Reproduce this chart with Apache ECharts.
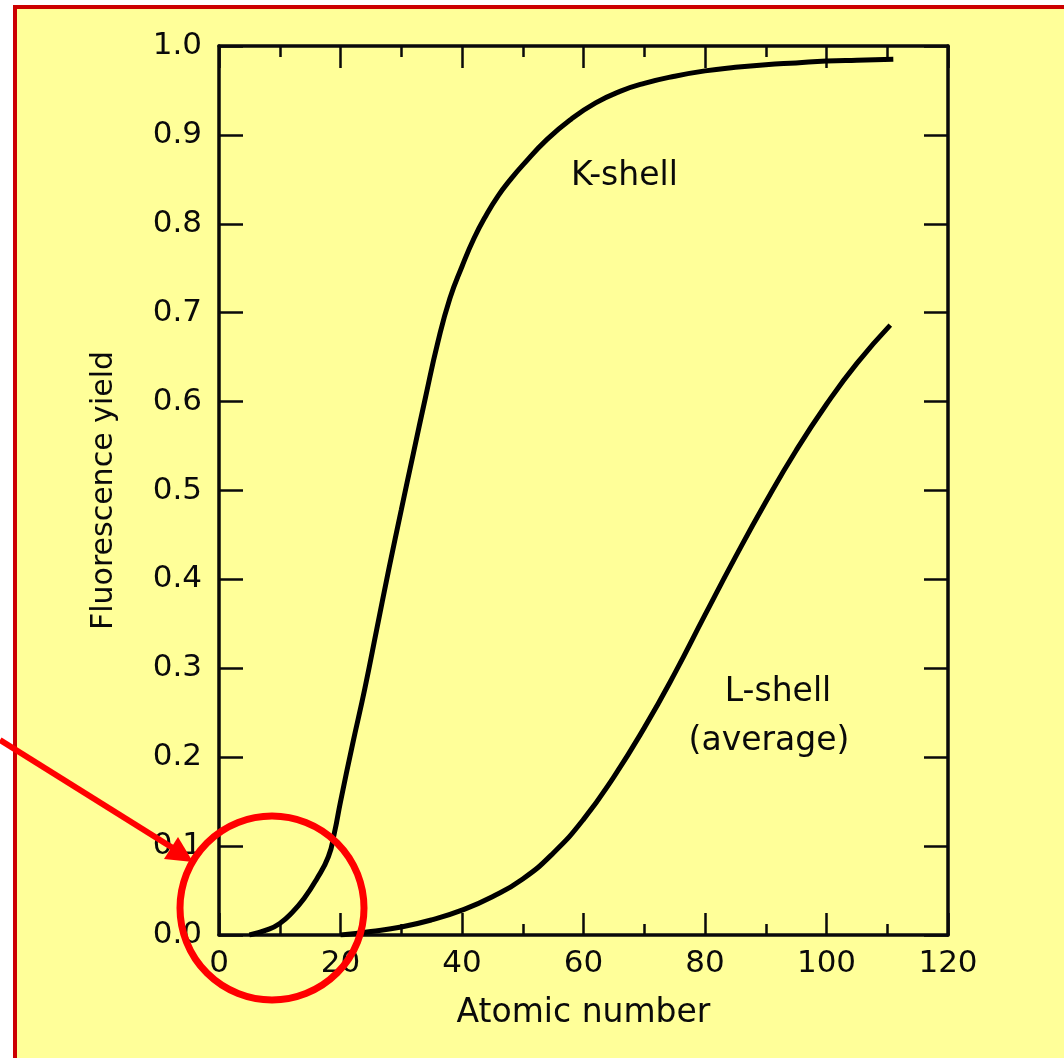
<!DOCTYPE html>
<html><head><meta charset="utf-8">
<script src="https://cdn.jsdelivr.net/npm/echarts@6/dist/echarts.min.js"></script>
<style>
html,body{margin:0;padding:0;background:#fff;}
#bg{position:absolute;left:13px;top:5px;width:1100px;height:1100px;background:#FFFF99;border-left:4px solid #CC0000;border-top:4px solid #CC0000;}
#c{position:absolute;left:0;top:0;width:1064px;height:1058px;}
</style>
</head><body><div id="bg"></div><div id="c"></div>
<script>
// K-shell fluorescence yield vs atomic number
const kZ = [5, 8, 10, 12, 14, 16, 18, 19, 20, 22, 24, 26, 28, 30, 32, 34, 36, 38, 40, 42, 44, 46, 48, 50, 54, 58, 62, 66, 70, 75, 80, 85, 90, 95, 100, 105, 111];
const kY = [0, 0.006, 0.013, 0.025, 0.041, 0.062, 0.088, 0.115, 0.15, 0.215, 0.277, 0.345, 0.413, 0.478, 0.542, 0.605, 0.666, 0.716, 0.752, 0.784, 0.81, 0.832, 0.85, 0.866, 0.895, 0.918, 0.936, 0.949, 0.958, 0.966, 0.972, 0.976, 0.979, 0.981, 0.983, 0.984, 0.985];
// L-shell (average)
const lZ = [20, 25, 30, 35, 40, 45, 50, 55, 60, 65, 70, 75, 80, 85, 90, 95, 100, 105, 110.5];
const lY = [0, 0.004, 0.009, 0.017, 0.028, 0.043, 0.063, 0.092, 0.13, 0.178, 0.233, 0.294, 0.36, 0.425, 0.487, 0.545, 0.597, 0.643, 0.686];

const xMin = 0, xMax = 120, xStep = 20;
const yMin = 0, yMax = 1, yStep = 0.1;
const xName = 'Atomic number';
const yName = 'Fluorescence yield';
const kLabel = 'K-shell';
const lLabel1 = 'L-shell';
const lLabel2 = '(average)';

const FONT = 'DejaVu Sans';
const INK = '#0a0a0a';
const tickStyle = {color: INK, width: 2.5};

const chart = echarts.init(document.getElementById('c'), null, {renderer: 'canvas'});

function xAx(pos, labels) {
  return {
    type: 'value', position: pos, min: xMin, max: xMax, interval: xStep,
    axisLine: {show: true, onZero: false, lineStyle: {color: INK, width: 3.5}},
    axisTick: {show: true, inside: true, length: 22, lineStyle: tickStyle},
    minorTick: {show: true, splitNumber: 2, length: 11, lineStyle: tickStyle},
    axisLabel: {show: labels, fontSize: 31, fontFamily: FONT, color: INK, margin: 13},
    splitLine: {show: false}, minorSplitLine: {show: false},
    name: labels ? xName : '', nameLocation: 'middle', nameGap: 62,
    nameTextStyle: {fontSize: 33, fontFamily: FONT, color: INK}
  };
}
function yAx(pos, labels) {
  return {
    type: 'value', position: pos, min: yMin, max: yMax, interval: yStep,
    axisLine: {show: true, onZero: false, lineStyle: {color: INK, width: 3.5}},
    axisTick: {show: true, inside: true, length: 24, lineStyle: tickStyle},
    axisLabel: {show: labels, fontSize: 31, fontFamily: FONT, color: INK, margin: 17,
      formatter: v => v.toFixed(1)},
    splitLine: {show: false},
    name: labels ? yName : '', nameLocation: 'middle', nameGap: 100, nameRotate: 90,
    nameTextStyle: {fontSize: 30, fontFamily: FONT, color: INK}
  };
}

chart.setOption({
  backgroundColor: 'transparent',
  animation: false,
  grid: {left: 219, right: 116, top: 46, bottom: 123, containLabel: false},
  xAxis: [xAx('bottom', true), xAx('top', false)],
  yAxis: [yAx('left', true), yAx('right', false)],
  series: [
    {type: 'line', name: kLabel, xAxisIndex: 0, yAxisIndex: 0, showSymbol: false, symbol: 'none',
     smooth: 0.5,
     lineStyle: {color: '#000', width: 5}, data: kZ.map((z, i) => [z, kY[i]])},
    {type: 'line', name: lLabel1, xAxisIndex: 0, yAxisIndex: 0, showSymbol: false, symbol: 'none',
     smooth: 0.5,
     lineStyle: {color: '#000', width: 5}, data: lZ.map((z, i) => [z, lY[i]])}
  ],
  graphic: [
    {type: 'text', x: 571, y: 176, z: 50, style: {text: kLabel, fontSize: 33, fontFamily: FONT, fill: INK, align: 'left', verticalAlign: 'middle'}},
    {type: 'text', x: 778, y: 692, z: 50, style: {text: lLabel1, fontSize: 33, fontFamily: FONT, fill: INK, align: 'center', verticalAlign: 'middle'}},
    {type: 'text', x: 769, y: 741, z: 50, style: {text: lLabel2, fontSize: 33, fontFamily: FONT, fill: INK, align: 'center', verticalAlign: 'middle'}},
    {type: 'circle', z: 100, shape: {cx: 272, cy: 908, r: 92}, style: {fill: 'transparent', stroke: '#FF0000', lineWidth: 7}},
    {type: 'line', z: 100, shape: {x1: 0, y1: 740, x2: 176, y2: 850}, style: {stroke: '#FF0000', lineWidth: 6}},
    {type: 'polygon', z: 100, shape: {points: [[193, 862], [164, 859], [178, 837]]}, style: {fill: '#FF0000'}}
  ]
});
</script>
</body></html>
